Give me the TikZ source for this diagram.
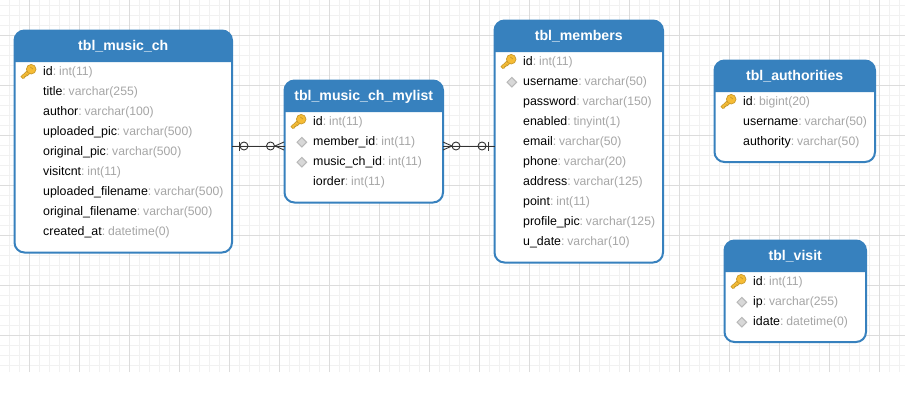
\documentclass[tikz,border=0pt]{standalone}
\usepackage{fontspec}
\setmainfont{Liberation Sans}
\usetikzlibrary{calc}
\definecolor{hdrblue}{HTML}{3781BE}
\definecolor{typegray}{HTML}{A6A6A6}
\definecolor{minorgrid}{HTML}{F1F1F1}
\definecolor{majorgrid}{HTML}{DCDCDC}
\definecolor{keyfill}{HTML}{F6BC35}
\definecolor{keyline}{HTML}{C99A2C}
\definecolor{diafill}{HTML}{D8D8D8}
\definecolor{dialine}{HTML}{B8B8B8}
\tikzset{
  tablebox/.style={draw=hdrblue,line width=2pt,fill=white,rounded corners=10pt,inner sep=0pt,outer sep=0pt},
  hdrtxt/.style={anchor=base,inner sep=0pt,text=white,font=\fontsize{14.1}{16}\selectfont\bfseries},
  fieldtxt/.style={anchor=base west,inner sep=0pt,text=black,font=\fontsize{12.4}{14}\selectfont},
  conn/.style={line width=0.9pt,draw=black!80},
  sym/.style={line width=0.9pt,draw=black!80},
}
\newcommand{\tbl}[6]{% name, x1, y1, x2, y2, title
  \node[tablebox,minimum width={(#4-#2)*1pt},minimum height={(#5-#3)*1pt}] (#1) at ({(#2+#4)/2},{(#3+#5)/2}) {};
  \fill[hdrblue] ($(#1.north west)+(0,31.5)$) [rounded corners=10pt] -- (#1.north west) -- (#1.north east) [sharp corners] -- ($(#1.north east)+(0,31.5)$) -- cycle;
  \node[hdrtxt] (#1title) at ({(#2+#4)/2},{#3+19.5}) {#6};
}
\newcommand{\fld}[5]{% name, x, y, field, type
  \node[fieldtxt] (#1) at (#2,#3) {#4\textcolor{typegray}{:\hspace{-1.8pt} \fontsize{12.2}{14}\selectfont #5}};
}
\newcommand{\keyicon}[2]{%
  \begin{scope}[shift={(#1,#2)}]
    \fill[keyfill,draw=keyline,line width=0.7pt] (-20.2,3.4) -- (-22,1.6) -- (-15,-5) -- (-12,-2) -- (-14,-1) -- (-15.5,0.6) -- (-16.8,-0.2) -- (-17,1.4) -- (-18.4,1.4) -- (-18.2,2.8) -- cycle;
    \fill[keyfill,draw=keyline,line width=0.7pt] (-11.8,-5.8) circle (4.8pt);
    \draw[keyline,line width=0.7pt] (-12.8,-8) -- (-10,-6);
  \end{scope}
}
\newcommand{\diaicon}[2]{%
  \fill[diafill,draw=dialine,line width=1pt] ({#1-11.2},{#2-7.6}) -- ({#1-6.4},{#2-2.8}) -- ({#1-11.2},{#2+2}) -- ({#1-16},{#2-2.8}) -- cycle;
}
\begin{document}
\begin{tikzpicture}[x=1pt,y=-1pt]
\useasboundingbox (0,0) rectangle (905,402);
\fill[white] (0,0) rectangle (905,402);
\begin{scope}
\clip (0,0) rectangle (905,372);
\foreach \i in {0,...,90} {\draw[minorgrid,line width=1pt] ({\i*10-0.5},0) -- ({\i*10-0.5},372);}
\foreach \i in {0,...,37} {\draw[minorgrid,line width=1pt] (0,{\i*10+5.5}) -- (905,{\i*10+5.5});}
\foreach \i in {0,...,17} {\draw[majorgrid,line width=1pt] ({\i*50+29.5},0) -- ({\i*50+29.5},372);}
\foreach \i in {0,...,7} {\draw[majorgrid,line width=1pt] (0,{\i*50+35.5}) -- (905,{\i*50+35.5});}
\end{scope}

\coordinate (linky) at (0,146);
\tbl{musicch}{14.5}{30.5}{232}{252.5}{tbl\_music\_ch}
\tbl{mylist}{284.5}{80.5}{443}{202.5}{tbl\_music\_ch\_mylist}
\tbl{members}{494.5}{20.5}{663}{262.5}{tbl\_members}
\tbl{authorities}{714.5}{60.5}{875}{162}{tbl\_authorities}
\tbl{visit}{724.5}{240.5}{866}{342}{tbl\_visit}

% connectors
\draw[conn] (musicch.east |- linky) -- (mylist.west |- linky);
\draw[conn] (mylist.east |- linky) -- (members.west |- linky);
% music end: one (bar + circle)
\draw[sym] (239.5,141.5) -- (239.5,150.5);
\draw[sym] (244,146) circle (4pt);
% mylist end: many (circle + crow)
\draw[sym] (270.5,146) circle (4pt);
\draw[sym] (275,146) -- (284,142);
\draw[sym] (275,146) -- (284,150);
% mylist right: many
\draw[sym] (452,146) -- (443,142);
\draw[sym] (452,146) -- (443,150);
\draw[sym] (456,146) circle (4pt);
% members end: one
\draw[sym] (482,146) circle (4pt);
\draw[sym] (488,141.5) -- (488,150.5);

% music
\keyicon{43}{75}
\fld{m1}{43}{75}{id}{int(11)}
\fld{m2}{43}{95}{title}{varchar(255)}
\fld{m3}{43}{115}{author}{varchar(100)}
\fld{m4}{43}{135}{uploaded\_pic}{varchar(500)}
\fld{m5}{43}{155}{original\_pic}{varchar(500)}
\fld{m6}{43}{175}{visitcnt}{int(11)}
\fld{m7}{43}{195}{uploaded\_filename}{varchar(500)}
\fld{m8}{43}{215}{original\_filename}{varchar(500)}
\fld{m9}{43}{235}{created\_at}{datetime(0)}
% mylist
\keyicon{313}{125}
\diaicon{313}{145}
\diaicon{313}{165}
\fld{l1}{313}{125}{id}{int(11)}
\fld{l2}{313}{145}{member\_id}{int(11)}
\fld{l3}{313}{165}{music\_ch\_id}{int(11)}
\fld{l4}{313}{185}{iorder}{int(11)}
% members
\keyicon{523}{65}
\diaicon{523}{85}
\fld{b1}{523}{65}{id}{int(11)}
\fld{b2}{523}{85}{username}{varchar(50)}
\fld{b3}{523}{105}{password}{varchar(150)}
\fld{b4}{523}{125}{enabled}{tinyint(1)}
\fld{b5}{523}{145}{email}{varchar(50)}
\fld{b6}{523}{165}{phone}{varchar(20)}
\fld{b7}{523}{185}{address}{varchar(125)}
\fld{b8}{523}{205}{point}{int(11)}
\fld{b9}{523}{225}{profile\_pic}{varchar(125)}
\fld{b10}{523}{245}{u\_date}{varchar(10)}
% authorities
\keyicon{743}{105}
\fld{a1}{743}{105}{id}{bigint(20)}
\fld{a2}{743}{125}{username}{varchar(50)}
\fld{a3}{743}{145}{authority}{varchar(50)}
% visit
\keyicon{753}{285}
\diaicon{753}{305}
\diaicon{753}{325}
\fld{v1}{753}{285}{id}{int(11)}
\fld{v2}{753}{305}{ip}{varchar(255)}
\fld{v3}{753}{325}{idate}{datetime(0)}
\end{tikzpicture}
\end{document}
